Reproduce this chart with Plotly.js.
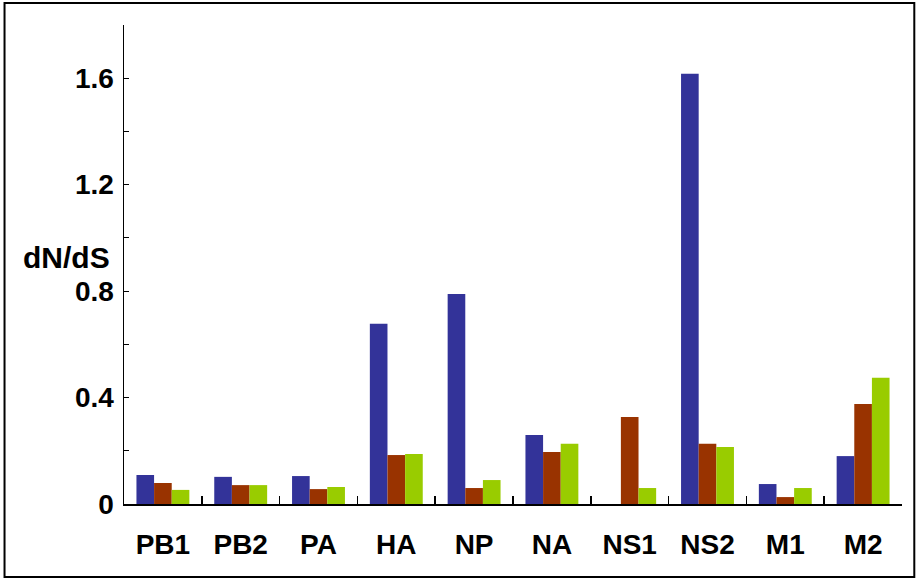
<!DOCTYPE html>
<html>
<head>
<meta charset="utf-8">
<script src="https://cdn.plot.ly/plotly-3.0.1.min.js"></script>
<style>html,body{margin:0;padding:0;background:#fff;}#chart{width:921px;height:582px;}</style>
</head>
<body>
<div id="chart"></div>
<script>
const categories = ["PB1","PB2","PA","HA","NP","NA","NS1","NS2","M1","M2"];
const series1 = [0.109,0.102,0.105,0.677,0.789,0.259,0,1.617,0.075,0.180];
const series2 = [0.079,0.071,0.056,0.184,0.060,0.195,0.327,0.226,0.026,0.376];
const series3 = [0.053,0.071,0.064,0.188,0.090,0.226,0.060,0.214,0.060,0.474];
const colors = ["#333399","#993300","#99CC00"];
const yTickVals = [0,0.4,0.8,1.2,1.6];
const yTickText = ["0","0.4","0.8","1.2","1.6"];

const font = {family:"Arial, 'Liberation Sans', sans-serif", color:"#000"};
const traces = [series1,series2,series3].map((s,i)=>({
  type:"bar", x:categories, y:s, marker:{color:colors[i], line:{width:0}},
  hoverinfo:"skip", showlegend:false
}));

const W=921,H=582,L=123.5,R=19.3,T=25,B=78;
const pw=W-L-R, ph=H-T-B;
const px=v=>(v-L)/pw, py=v=>(H-B-v)/ph;

const layout = {
  width:W, height:H,
  margin:{l:L,r:R,t:T,b:B,pad:0},
  paper_bgcolor:"#fff", plot_bgcolor:"#fff",
  barmode:"group", bargap:0.32, bargroupgap:0,
  showlegend:false,
  xaxis:{
    type:"category", showline:true, linecolor:"#000", linewidth:1.5,
    ticks:"inside", tickson:"boundaries", ticklen:8, tickwidth:1.5, tickcolor:"#000",
    showgrid:false, zeroline:false,
    tickfont:Object.assign({size:28, weight:"bold"},font),
    ticklabelstandoff:15
  },
  yaxis:{
    range:[0,1.8], showline:true, linecolor:"#000", linewidth:1.5,
    tickmode:"array", tickvals:yTickVals, ticktext:yTickText,
    ticks:"inside", ticklen:5, tickwidth:1.2, tickcolor:"#000",
    minor:{tickvals:[0.2,0.6,1.0,1.4,1.8], ticks:"inside", ticklen:5, tickwidth:1.2, tickcolor:"#000", showgrid:false},
    showgrid:false, zeroline:false,
    tickfont:Object.assign({size:28, weight:"bold"},font),
    ticklabelstandoff:3
  },
  annotations:[{
    text:"dN/dS", xref:"paper", yref:"paper", x:px(65.5), y:py(257),
    xanchor:"center", yanchor:"middle", showarrow:false,
    font:Object.assign({size:30, weight:"bold"},font)
  }],
  shapes:[{
    type:"rect", xref:"paper", yref:"paper",
    x0:px(4), x1:px(914), y0:py(577), y1:py(3),
    line:{color:"#000", width:2}, fillcolor:"rgba(0,0,0,0)", layer:"below"
  }]
};
Plotly.newPlot("chart", traces, layout, {displayModeBar:false, staticPlot:true});
</script>
</body>
</html>
